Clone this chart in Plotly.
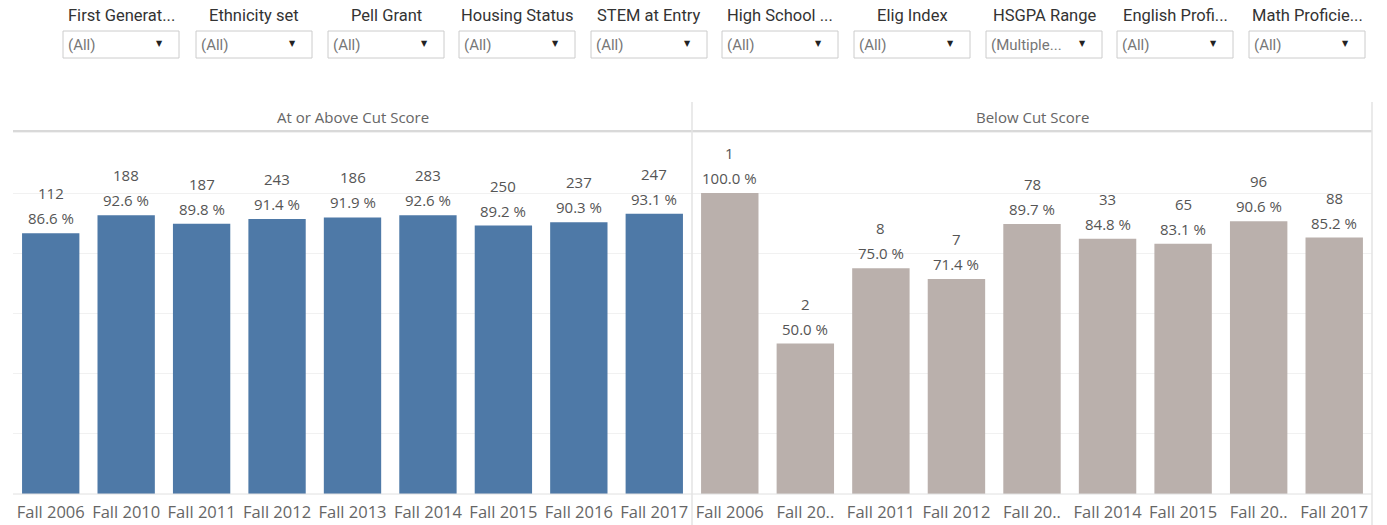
import plotly.graph_objects as go

W, H = 1387, 525

# ---------------- data ----------------
categories = ["Fall 2006", "Fall 2010", "Fall 2011", "Fall 2012", "Fall 2013",
              "Fall 2014", "Fall 2015", "Fall 2016", "Fall 2017"]
above_counts = [112, 188, 187, 243, 186, 283, 250, 237, 247]
above_pct = [86.6, 92.6, 89.8, 91.4, 91.9, 92.6, 89.2, 90.3, 93.1]
below_counts = [1, 2, 8, 7, 78, 33, 65, 96, 88]
below_pct = [100.0, 50.0, 75.0, 71.4, 89.7, 84.8, 83.1, 90.6, 85.2]
below_ticklabels = ["Fall 2006", "Fall 20..", "Fall 2011", "Fall 2012", "Fall 20..",
                    "Fall 2014", "Fall 2015", "Fall 20..", "Fall 2017"]
panel_titles = ["At or Above Cut Score", "Below Cut Score"]
filter_names = ["First Generat...", "Ethnicity set", "Pell Grant", "Housing Status",
                "STEM at Entry", "High School ...", "Elig Index", "HSGPA Range",
                "English Profi...", "Math Proficie..."]
filter_values = ["(All)", "(All)", "(All)", "(All)", "(All)", "(All)", "(All)",
                 "(Multiple...", "(All)", "(All)"]

# ---------------- helpers (pixel -> paper) ----------------
def px(x):
    return x / W

def py(y):
    return 1 - y / H

BLUE = "#4e79a7"
GREY = "#bab0ac"
TXT = "#555555"
FONT = "Open Sans"

fig = go.Figure()
fig.add_trace(go.Bar(
    x=categories, y=above_pct, xaxis="x", yaxis="y",
    marker=dict(color=BLUE, line=dict(width=0)), width=0.76,
    showlegend=False, hovertemplate="%{x}<br>%{y:.1f} %<extra></extra>",
))
fig.add_trace(go.Bar(
    x=categories, y=below_pct, xaxis="x2", yaxis="y2",
    marker=dict(color=GREY, line=dict(width=0)), width=0.76,
    showlegend=False, hovertemplate="%{x}<br>%{y:.1f} %<extra></extra>",
))

ydom = [py(494), py(131)]
yax = dict(domain=ydom, range=[0, 120.6], showticklabels=False, ticks="",
           showgrid=True, gridcolor="#f1f1f1", gridwidth=1, dtick=20,
           zeroline=False, showline=False, fixedrange=True)
xax_common = dict(showline=False, ticks="", showgrid=False, zeroline=False,
                  tickfont=dict(family=FONT, size=16.5, color="#666666"),
                  ticklabelstandoff=6, fixedrange=True)

shapes = []
annotations = []

# bar value labels (count above percentage), anchored to the data
for xref, yref, counts, pcts in (("x", "y", above_counts, above_pct),
                                 ("x2", "y2", below_counts, below_pct)):
    for cat, c, p in zip(categories, counts, pcts):
        annotations.append(dict(text=f"{p:.1f} %", xref=xref, yref=yref, x=cat, y=p,
                                yshift=15, xanchor="center", yanchor="middle",
                                showarrow=False,
                                font=dict(family=FONT, size=15, color=TXT)))
        annotations.append(dict(text=f"{c}", xref=xref, yref=yref, x=cat, y=p,
                                yshift=40, xanchor="center", yanchor="middle",
                                showarrow=False,
                                font=dict(family=FONT, size=15, color=TXT)))

line_col = "#d9d9d9"
# header bottom line
shapes.append(dict(type="line", xref="paper", yref="paper", x0=px(13), x1=px(1372),
                   y0=py(131), y1=py(131), line=dict(color=line_col, width=2)))
# baseline
shapes.append(dict(type="line", xref="paper", yref="paper", x0=px(13), x1=px(1372),
                   y0=py(494), y1=py(494), line=dict(color="#e0e0e0", width=1)))
# panel separator and right border
for xx in (692, 1372):
    shapes.append(dict(type="line", xref="paper", yref="paper", x0=px(xx), x1=px(xx),
                       y0=py(102), y1=py(525), line=dict(color="#e3e3e3", width=1.5)))

# panel titles
for title, cx in zip(panel_titles, [(13 + 692) / 2, (692 + 1372) / 2]):
    annotations.append(dict(text=title, xref="paper", yref="paper", x=px(cx), y=py(117),
                            xanchor="center", yanchor="middle", showarrow=False,
                            font=dict(family=FONT, size=15, color="#666666")))

# filter controls
box_lefts = [63, 196, 328, 459, 591, 722, 854, 986, 1117, 1249]
box_w = 116
for name, val, bx in zip(filter_names, filter_values, box_lefts):
    shapes.append(dict(type="rect", xref="paper", yref="paper",
                       x0=px(bx), x1=px(bx + box_w), y0=py(58), y1=py(31),
                       line=dict(color="#cccccc", width=1), fillcolor="white"))
    annotations.append(dict(text=name, xref="paper", yref="paper", x=px(bx + box_w / 2),
                            y=py(16), xanchor="center", yanchor="middle", showarrow=False,
                            font=dict(family="Roboto", size=16.5, color="#333333")))
    annotations.append(dict(text=val, xref="paper", yref="paper", x=px(bx + 3),
                            y=py(45), xanchor="left", yanchor="middle", showarrow=False,
                            font=dict(family="Roboto", size=15, color="#777777")))
    annotations.append(dict(text="▼", xref="paper", yref="paper", x=px(bx + 96),
                            y=py(44), xanchor="center", yanchor="middle", showarrow=False,
                            font=dict(family="DejaVu Sans", size=8, color="#222222")))

fig.update_layout(
    width=W, height=H, autosize=False,
    margin=dict(l=0, r=0, t=0, b=0),
    paper_bgcolor="white", plot_bgcolor="white",
    xaxis=dict(domain=[px(13), px(692)], anchor="y", **xax_common),
    yaxis=dict(anchor="x", **yax),
    xaxis2=dict(domain=[px(692), px(1372)], anchor="y2", tickmode="array",
                tickvals=categories, ticktext=below_ticklabels, **xax_common),
    yaxis2=dict(anchor="x2", **yax),
    shapes=shapes, annotations=annotations,
    font=dict(family=FONT),
)

fig.write_html("out.html", config={"displayModeBar": False},
               post_script="document.body.style.margin='0';document.body.style.overflow='hidden';")
